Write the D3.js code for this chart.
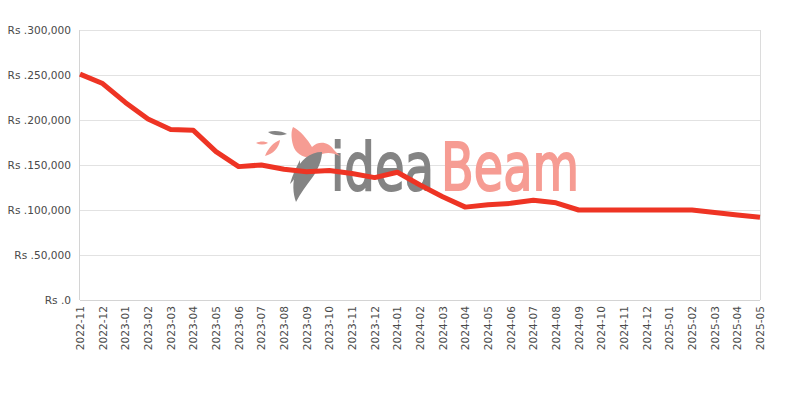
<!DOCTYPE html>
<html><head><meta charset="utf-8">
<script src="https://cdn.jsdelivr.net/npm/d3@7"></script>
<style>body{margin:0;background:#fff;}svg{display:block;}</style>
</head><body>
<svg id="chart" width="800" height="400"></svg>
<script>
const months = ["2022-11","2022-12","2023-01","2023-02","2023-03","2023-04","2023-05","2023-06","2023-07","2023-08","2023-09","2023-10","2023-11","2023-12","2024-01","2024-02","2024-03","2024-04","2024-05","2024-06","2024-07","2024-08","2024-09","2024-10","2024-11","2024-12","2025-01","2025-02","2025-03","2025-04","2025-05"];
const prices = [251000,240500,219500,201000,189500,188500,164800,148200,150000,145200,142600,144000,140500,136000,141900,127800,114800,103200,105800,107400,110800,108000,100000,100000,100000,100000,100000,100000,97200,94400,92000];
const yTicks = [0,50000,100000,150000,200000,250000,300000];

const svg = d3.select("#chart");
const L=80,R=760,T=30,B=300;
const x = d3.scalePoint().domain(months).range([L,R]);
const y = d3.scaleLinear().domain([0,300000]).range([B,T]);

// grid
svg.append("g").selectAll("line").data(yTicks).join("line")
  .attr("x1",L).attr("x2",R).attr("y1",d=>y(d)).attr("y2",d=>y(d))
  .attr("stroke","#e2e2e2").attr("stroke-width",1).attr("shape-rendering","crispEdges");
svg.append("line").attr("x1",R+0.5).attr("x2",R+0.5).attr("y1",T).attr("y2",B).attr("stroke","#dcdcdc");
svg.append("line").attr("x1",L-0.5).attr("x2",L-0.5).attr("y1",T).attr("y2",B).attr("stroke","#d4d4d4");
svg.append("line").attr("x1",L).attr("x2",R).attr("y1",B+0.5).attr("y2",B+0.5).attr("stroke","#d4d4d4");

// y labels
svg.append("g").selectAll("text").data(yTicks).join("text")
  .attr("x",L-9).attr("y",d=>y(d)+4).attr("text-anchor","end")
  .attr("font-family","DejaVu Sans, sans-serif").attr("font-size",10.6).attr("fill","#4a4a4a")
  .text(d=>"Rs ."+d3.format(",")(d));

// x labels
svg.append("g").selectAll("text").data(months).join("text")
  .attr("transform",d=>`translate(${x(d)+4},${B+6}) rotate(-90)`)
  .attr("text-anchor","end")
  .attr("font-family","DejaVu Sans, sans-serif").attr("font-size",10.6).attr("fill","#4a4a4a")
  .text(d=>d);

// watermark logo
const wm = svg.append("g");
function wmText(str, x0, w, col){
  const t = wm.append("text").attr("x",0).attr("y",0)
    .attr("font-family","DejaVu Sans, sans-serif").attr("font-size",66)
    .attr("fill",col).attr("stroke",col).attr("stroke-width",2).text(str);
  const nat = t.node().getComputedTextLength();
  t.attr("transform",`translate(${x0},190) scale(${w/nat},1)`);
}
wmText("idea",331,103,"#848484");
wmText("Beam",441,138,"#f69c93");
// bird (approximate)
wm.append("path").attr("d","M293,127 C300,130 308,140 312,147 C318,141 328,141 334,150 L340,156 C332,152 324,152 318,156 C308,160 296,156 293,145 C291,138 291,131 293,127 Z").attr("fill","#f69c93");
wm.append("path").attr("d","M268,132 C274,130 282,131 287,134 C281,136 273,136 268,132 Z").attr("fill","#848484");
wm.append("path").attr("d","M256,143 C260,141 265,141 268,143 C264,145 260,145 256,143 Z").attr("fill","#f69c93");
wm.append("path").attr("d","M265,156 C268,148 274,142 280,140 C279,148 273,154 265,156 Z").attr("fill","#f69c93");
wm.append("path").attr("d","M322,152 C310,152 300,160 296,172 C292,182 293,194 296,202 C300,194 306,186 312,178 C318,170 322,160 322,152 Z").attr("fill","#848484");
wm.append("path").attr("d","M300,160 C296,168 292,176 290,184 C294,180 298,174 300,166 Z").attr("fill","#848484");

// line
const line = d3.line().x((d,i)=>x(months[i])).y(d=>y(d));
svg.append("path").datum(prices).attr("d",line)
  .attr("fill","none").attr("stroke","#ee3424").attr("stroke-width",5)
  .attr("stroke-linejoin","round").attr("stroke-linecap","butt");
</script>
</body></html>
